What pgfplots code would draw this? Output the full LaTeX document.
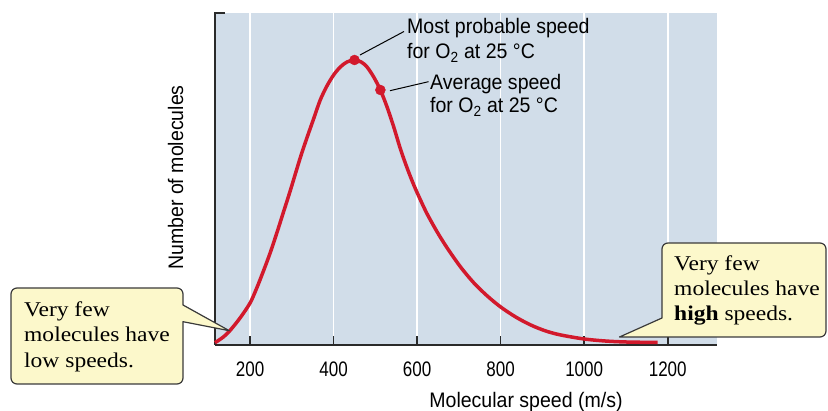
\documentclass[border=0pt]{standalone}
\usepackage{pgfplots}
\pgfplotsset{compat=1.18}
\usepackage{fontspec}
\setmainfont{Liberation Sans}
\newfontfamily\cond[FakeStretch=0.93]{Liberation Sans}
\newfontfamily\tickf[FakeStretch=0.81]{Liberation Sans}
\newfontfamily\callf[FakeStretch=1.12]{Liberation Serif}
\definecolor{bgblue}{HTML}{D1DDE9}
\definecolor{curvered}{HTML}{D2192C}
\definecolor{callfill}{HTML}{FCF8CB}
\definecolor{axisgray}{HTML}{2A2A2A}
\definecolor{callborder}{HTML}{3A3A3A}

\begin{document}
\begin{tikzpicture}[x=1pt,y=1pt]
\useasboundingbox (0,0) rectangle (828,411);
\begin{axis}[
  at={(215pt,66pt)}, anchor=south west,
  width=502pt, height=332pt, scale only axis,
  xmin=116, xmax=1318, ymin=0, ymax=332,
  axis x line*=bottom, axis y line*=left,
  x axis line style={-}, y axis line style={-},
  axis line style={axisgray, line width=1.6pt},
  axis background/.style={fill=bgblue},
  xtick={200,400,600,800,1000,1200}, ytick=\empty,
  xmajorgrids, major grid style={white, line width=1.6pt},
  tick align=inside, major tick length=9pt,
  xtick style={axisgray, line width=1.6pt},
  xticklabel style={font=\tickf\fontsize{21}{25}\selectfont, anchor=base, yshift=-32pt},
  scaled x ticks=false,
  /pgf/number format/assume math mode=true,
  /pgf/number format/1000 sep={},
  clip=false,
]
\addplot[curvered, line width=3.5pt, smooth, line cap=butt] coordinates {
 (116,2.3) (136,8) (152,14.5) (176,27) (200,42) (216,57) (232,74) (248,92)
 (264,112) (280,133) (296,154) (320,187) (336,207) (352,226) (368,245)
 (384,259) (400,270) (416,278) (432,283) (450,285) (466,283) (480,278)
 (496,268) (512,255) (528,238) (544,218) (560,196) (576,177) (592,160)
 (608,145) (624,131) (648,113) (672,97) (704,78) (736,62) (768,49)
 (800,38) (836,28) (872,20) (908,14) (944,10) (1000,6) (1050,4)
 (1100,3) (1176,2.5)
};
\addplot[only marks, mark=*, mark size=5pt, curvered] coordinates {(450,285) (512,255)};
\end{axis}
% top bracket tick of the y axis
\draw[axisgray, line width=1.6pt] (214.2,398) -- (225,398);
% annotations
\begin{scope}[every node/.style={anchor=base west, inner sep=0pt, font=\cond\fontsize{21}{25}\selectfont}]
\node at (407,377) {Most probable speed};
\node at (407,352) {for O\textsubscript{2} at 25 °C};
\node at (430,321) {Average speed};
\node at (430,298) {for O\textsubscript{2} at 25 °C};
\end{scope}
\draw[black, line width=1pt] (360,356) -- (404,379.5);
\draw[black, line width=1pt] (390,320.3) -- (428.5,329.3);
% axis titles
\node[anchor=base, inner sep=0pt, font=\cond\fontsize{21}{25}\selectfont] at (526,3) {Molecular speed (m/s)};
\node[rotate=90, anchor=base, inner sep=0pt, font=\cond\fontsize{21}{25}\selectfont] at (183,233.5) {Number of molecules};
% left callout
\draw[fill=callfill, draw=callborder, line width=1.2pt, line join=round]
  (183,89.3) -- (183,33) arc[start angle=0, end angle=-90, radius=6]
  -- (17,27) arc[start angle=270, end angle=180, radius=6]
  -- (11,117) arc[start angle=180, end angle=90, radius=6]
  -- (177,123) arc[start angle=90, end angle=0, radius=6]
  -- (183,106) -- (229.3,80.3) -- cycle;
\begin{scope}[every node/.style={anchor=base west, inner sep=0pt, font=\callf\fontsize{21}{25}\selectfont}]
\node at (24,94.3) {Very few};
\node at (24,69.3) {molecules have};
\node at (24,43.7) {low speeds.};
\end{scope}
% right callout
\draw[fill=callfill, draw=callborder, line width=1.2pt, line join=round]
  (662,93) -- (619.5,74) -- (820,74) arc[start angle=270, end angle=360, radius=6]
  -- (826,162) arc[start angle=0, end angle=90, radius=6]
  -- (668,168) arc[start angle=90, end angle=180, radius=6] -- cycle;
\begin{scope}[every node/.style={anchor=base west, inner sep=0pt, font=\callf\fontsize{21}{25}\selectfont}]
\node at (674,140.3) {Very few};
\node at (674,115.3) {molecules have};
\node at (674,90.3) {\textbf{high} speeds.};
\end{scope}
\end{tikzpicture}
\end{document}
